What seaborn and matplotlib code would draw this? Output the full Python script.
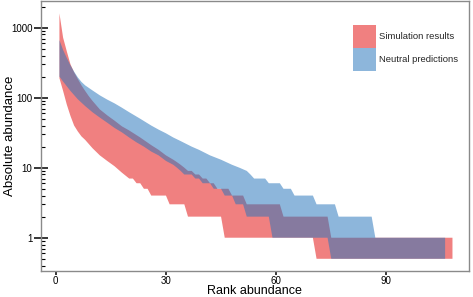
import numpy as np
import matplotlib
matplotlib.use("Agg")
import matplotlib.pyplot as plt
import seaborn as sns
from matplotlib.patches import Patch
from matplotlib.ticker import LogLocator, NullFormatter, FixedLocator

# ---- data ----
sim_hi_rank = [1, 2, 3, 4, 5, 6, 7, 8, 9, 10, 12, 14, 16, 18, 20, 23, 26, 28, 30, 32, 33, 34, 35, 36, 37,
               38, 39, 40, 41, 42, 43, 44, 47, 48, 51, 52, 61, 62, 74, 75, 108]
sim_hi_val = [1600, 720, 460, 300, 230, 185, 150, 125, 105, 90, 68, 56, 47, 39, 34, 27, 21, 18, 15, 13, 12, 11, 10, 9, 9,
              8, 8, 7, 7, 6, 6, 5, 5, 4, 4, 3, 3, 2, 2, 1, 1]

sim_lo_rank = [1, 2, 3, 4, 5, 6, 7, 8, 10, 12, 14, 16, 18, 20, 21, 22, 23, 24, 25, 26, 30, 31, 35, 36, 45,
               46, 70, 71, 108]
sim_lo_val = [190, 125, 80, 55, 40, 33, 28, 25, 19, 15, 12.5, 10.5, 8.5, 7, 7, 6, 6, 5, 5, 4, 4, 3, 3, 2, 2,
              1, 1, 0.5, 0.5]

neu_hi_rank = [1, 2, 3, 4, 5, 6, 7, 8, 10, 12, 14, 16, 18, 20, 23, 26, 28, 30, 32, 34, 37, 39, 42, 45, 48,
               50, 52, 53, 54, 57, 58, 61, 62, 64, 65, 70, 71, 76, 77, 86, 87, 106]
neu_hi_val = [665, 480, 370, 290, 235, 195, 168, 150, 127, 108, 94, 83, 72, 62, 50, 40, 35, 31, 27, 24, 20, 18, 15, 13, 11,
              10, 9, 8, 7, 7, 6, 6, 5, 5, 4, 4, 3, 3, 2, 2, 1, 1]

neu_lo_rank = [1, 2, 4, 6, 8, 10, 12, 14, 16, 18, 20, 22, 24, 26, 28, 30, 32, 33, 34, 35, 37, 38, 39, 40, 42,
               43, 45, 46, 48, 49, 51, 52, 58, 59, 74, 75, 106]
neu_lo_val = [200, 170, 125, 95, 76, 62, 52, 44, 37, 32, 27, 23, 20, 17, 15, 12.5, 11, 10, 9, 8, 8, 7, 7, 6, 6,
              5, 5, 4, 4, 3, 3, 2, 2, 1, 1, 0.5, 0.5]

series_labels = ["Simulation results", "Neutral predictions"]
x_ticks = [0, 30, 60, 90]
y_ticks = [1, 10, 100, 1000]
y_tick_labels = ["1", "10", "100", "1000"]

sim_color = "#F08080"
neu_color = "#2875BB"
neu_alpha = 0.53

# ---- figure ----
sns.set_theme(style="ticks")
plt.rcParams["font.family"] = ["Liberation Sans", "DejaVu Sans"]

W, H = 473, 297
fig = plt.figure(figsize=(W / 100, H / 100), dpi=100)
left, right, bottom, top = 40.7, 469.0, 270.7, 1.0
ax = fig.add_axes([left / W, 1 - bottom / H, (right - left) / W, (bottom - top) / H])

ax.set_yscale("log")

# simulation band
ax.fill(np.r_[sim_hi_rank, sim_lo_rank[::-1]], np.r_[sim_hi_val, sim_lo_val[::-1]],
        facecolor=sim_color, edgecolor="none", zorder=2)
# neutral band
ax.fill(np.r_[neu_hi_rank, neu_lo_rank[::-1]], np.r_[neu_hi_val, neu_lo_val[::-1]],
        facecolor=neu_color, alpha=neu_alpha, edgecolor="none", zorder=3)

ax.set_xlim(-4.1, 112.5)
ax.set_ylim(0.338, 2405)

ax.xaxis.set_major_locator(FixedLocator(x_ticks))
ax.set_xticklabels([str(t) for t in x_ticks])
ax.yaxis.set_major_locator(FixedLocator(y_ticks))
ax.set_yticklabels(y_tick_labels)
ax.yaxis.set_minor_locator(LogLocator(base=10, subs=np.arange(2, 10)))
ax.yaxis.set_minor_formatter(NullFormatter())
ax.xaxis.set_minor_locator(FixedLocator([]))

ax.tick_params(axis="y", which="major", direction="inout", length=9.4, width=1.1,
               color="black", pad=1.2, labelsize=7, labelcolor="black")
ax.tick_params(axis="y", which="minor", direction="in", length=3, width=0.8, color="black")
ax.tick_params(axis="x", which="major", direction="out", length=3, width=1.1,
               color="black", pad=1.0, labelsize=7, labelcolor="black")
ax.tick_params(left=True, bottom=True)

for s in ax.spines.values():
    s.set_color("#8a8a8a")
    s.set_linewidth(1.0)
    s.set_visible(True)

ax.set_facecolor("white")
ax.grid(False)
ax.set_xlabel("Rank abundance", fontsize=9, color="black")
ax.xaxis.set_label_coords(0.5, (bottom - 294.3) / (bottom - top))
ax.xaxis.label.set_verticalalignment("baseline")
ax.set_ylabel("Absolute abundance", fontsize=9.5, color="black")
ax.yaxis.set_label_coords((16.0 - left) / (right - left), 0.5)

handles = [Patch(facecolor=sim_color, edgecolor="none"),
           Patch(facecolor=neu_color, alpha=neu_alpha, edgecolor="none")]
leg = ax.legend(handles, series_labels, loc="upper left",
                bbox_to_anchor=(352.7 / W, 1 - 25 / H), bbox_transform=fig.transFigure,
                frameon=False, fontsize=6.8, handlelength=2.43, handleheight=3.37,
                handletextpad=0.35, labelspacing=0.0, borderpad=0, borderaxespad=0)

fig.savefig("out.png", dpi=100)
